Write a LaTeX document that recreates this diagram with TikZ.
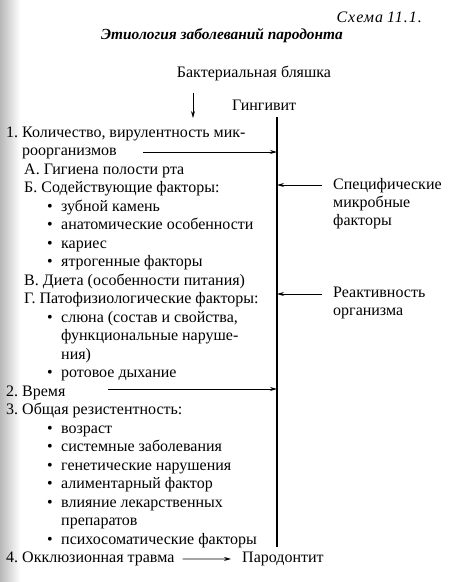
\documentclass[tikz,border=0pt]{standalone}
\usepackage{fontspec}
\setmainfont{Liberation Serif}
\usetikzlibrary{arrows.meta,calc}
\begin{document}
\begin{tikzpicture}[x=1pt,y=-1pt,
  txt/.style={anchor=base west, inner sep=0pt, font=\fontsize{16}{19}\selectfont},
  arr/.style={-{Stealth[length=7pt,width=4pt]}, line width=0.8pt},
  vline/.style={line width=1.1pt}]
\useasboundingbox (0,0) rectangle (448,582);
\shade[left color=black!28, right color=white] (0,0) rectangle (20,582);
% header
\node[txt, anchor=base east, font=\fontsize{16}{19}\selectfont\itshape\addfontfeature{LetterSpace=6}] (schema) at (422,22) {Схема\hspace{4pt}11.1.};
\node[txt, anchor=base, font=\fontsize{15.4}{18}\selectfont\bfseries\itshape] (title) at (222,39) {Этиология заболеваний пародонта};
\node[txt, anchor=base] (plaque) at (254,77) {Бактериальная бляшка};
\node[txt] (ging) at (232,110) {Гингивит};
\coordinate (dtop) at (193,93);
\coordinate (dbot) at (193,118);
\draw[arr] (dtop) -- (dbot);
\coordinate (vtop) at (277,117);
\coordinate (vbot) at (277,547);
\draw[vline] (vtop) -- (vbot);
% left list (baseline 137 + k*18.5)
\node[txt] (n1) at (6,137) {1.};
\node[txt] (t1a) at (22,137) {Количество, вирулентность мик-};
\node[txt] (t1b) at (22,155.5) {роорганизмов};
\node[txt] (tA) at (24,174) {А. Гигиена полости рта};
\node[txt] (tB) at (24,192.5) {Б. Содействующие факторы:};
\foreach \k/\t in {4/зубной камень,5/анатомические особенности,6/кариес,7/ятрогенные факторы,
                    10/{слюна (состав и свойства,},13/ротовое дыхание,
                    16/возраст,17/системные заболевания,18/генетические нарушения,
                    19/алиментарный фактор,20/влияние лекарственных,22/психосоматические факторы}{
  \node[txt] (d\k) at (47,{137+\k*18.5}) {•};
  \node[txt] (b\k) at (61,{137+\k*18.5}) {\t};
}
\node[txt] (b11) at (61,{137+11*18.5}) {функциональные наруше-};
\node[txt] (b12) at (61,{137+12*18.5}) {ния)};
\node[txt] (b21) at (61,{137+21*18.5}) {препаратов};
\node[txt] (tV) at (24,{137+8*18.5}) {В. Диета (особенности питания)};
\node[txt] (tG) at (24,{137+9*18.5}) {Г. Патофизиологические факторы:};
\node[txt] (n2) at (6,{137+14*18.5}) {2.};
\node[txt] (t2) at (22,{137+14*18.5}) {Время};
\node[txt] (n3) at (6,{137+15*18.5}) {3.};
\node[txt] (t3) at (22,{137+15*18.5}) {Общая резистентность:};
\node[txt] (n4) at (6,{137+23*18.5}) {4.};
\node[txt] (t4) at (22,{137+23*18.5}) {Окклюзионная травма};
\node[txt] (parod) at (242,{137+23*18.5}) {Пародонтит};
% right labels
\node[txt] (spec1) at (333,189) {Специфические};
\node[txt] (spec2) at (333,207) {микробные};
\node[txt] (spec3) at (333,225) {факторы};
\node[txt] (react1) at (333,297) {Реактивность};
\node[txt] (react2) at (333,315) {организма};
% arrows
\coordinate (a1) at (143,152);
\draw[arr] (a1) -- (a1 -| vtop);
\coordinate (a2) at (322,185);
\draw[arr] (a2) -- (a2 -| vtop);
\coordinate (a3) at (322,294);
\draw[arr] (a3) -- (a3 -| vtop);
\coordinate (a4) at (108,389);
\draw[arr] (a4) -- (a4 -| vtop);
\draw[arr] ([xshift=8pt]t4.east) -- ([xshift=-11pt]parod.west);
\end{tikzpicture}
\end{document}
